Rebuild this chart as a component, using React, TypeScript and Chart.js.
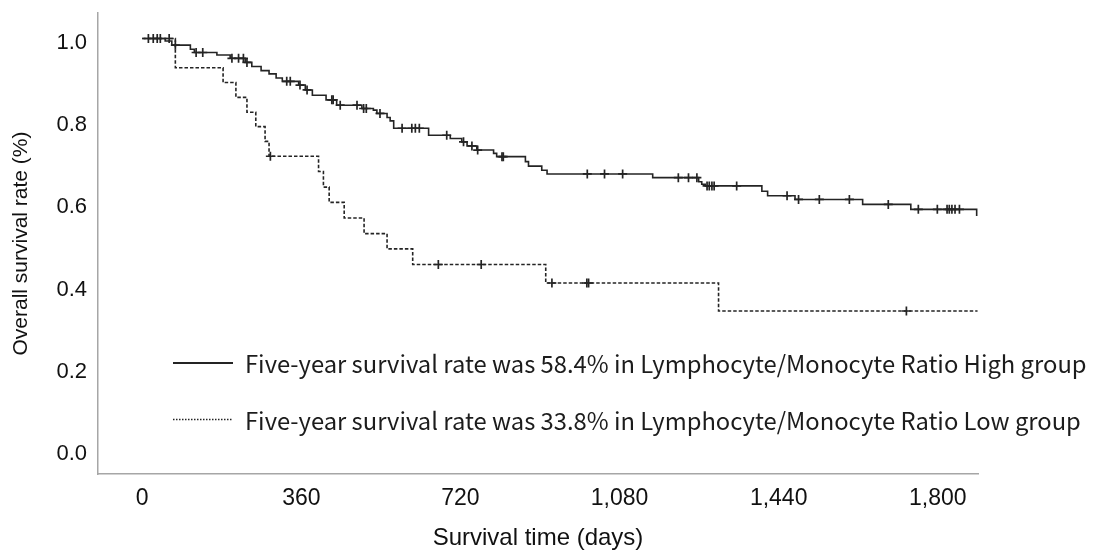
import React, { useEffect, useRef } from 'react';
import { Chart, registerables } from 'chart.js';

Chart.register(...registerables);

// ---- Data ----
const groupLabels = [
  'Five-year survival rate was 58.4% in Lymphocyte/Monocyte Ratio High group',
  'Five-year survival rate was 33.8% in Lymphocyte/Monocyte Ratio Low group',
];

const xTickValues = [0, 360, 720, 1080, 1440, 1800];
const yTickValues = [0, 0.2, 0.4, 0.6, 0.8, 1.0];

// High LMR group: event times (days) and survival right after each event
const highTimes = [52, 67, 109, 118, 169, 199, 233, 248, 269, 287, 303, 317, 354, 369, 385, 416, 440, 497, 523, 531, 554, 561, 569, 648, 697, 723, 735, 757, 795, 802, 867, 874, 904, 916, 1155, 1259, 1266, 1274, 1402, 1415, 1477, 1630, 1739, 1888];
const highSurv = [0.994, 0.984, 0.974, 0.966, 0.960, 0.952, 0.942, 0.932, 0.922, 0.914, 0.904, 0.896, 0.887, 0.875, 0.862, 0.851, 0.838, 0.830, 0.826, 0.818, 0.808, 0.800, 0.782, 0.765, 0.757, 0.749, 0.739, 0.729, 0.721, 0.713, 0.701, 0.690, 0.680, 0.671, 0.662, 0.652, 0.646, 0.642, 0.629, 0.618, 0.609, 0.597, 0.585, 0.569];
const highCensor = [14, 25, 34, 41, 75, 122, 137, 203, 218, 229, 237, 327, 335, 357, 373, 429, 432, 448, 486, 501, 507, 538, 588, 610, 618, 627, 689, 727, 746, 759, 814, 817, 1007, 1046, 1087, 1213, 1236, 1255, 1278, 1283, 1289, 1294, 1345, 1459, 1485, 1532, 1600, 1688, 1756, 1799, 1821, 1826, 1832, 1839, 1849];
const highLastFollowUp = 1888;

// Low LMR group
const lowTimes = [75, 183, 212, 237, 257, 278, 287, 399, 410, 423, 457, 502, 554, 612, 913, 1304];
const lowSurv = [0.929, 0.893, 0.857, 0.821, 0.786, 0.750, 0.714, 0.677, 0.639, 0.602, 0.564, 0.526, 0.489, 0.451, 0.406, 0.338];
const lowCensor = [61, 290, 670, 767, 927, 1006, 1010, 1729];
const lowLastFollowUp = 1890;

// ---- helpers ----
function survivalAt(times: number[], surv: number[], t: number): number {
  let s = 1;
  for (let i = 0; i < times.length; i++) {
    if (times[i] <= t) s = surv[i];
  }
  return s;
}

function stepPoints(times: number[], surv: number[], lastT: number) {
  const pts = [{ x: 0, y: 1 }];
  times.forEach((t, i) => pts.push({ x: t, y: surv[i] }));
  const last = pts[pts.length - 1];
  if (lastT > last.x) pts.push({ x: lastT, y: last.y });
  return pts;
}

function censorPoints(times: number[], surv: number[], censor: number[]) {
  return censor.map((t) => ({ x: t, y: survivalAt(times, surv, t) }));
}

const LINE = '#242424';
const AXIS = '#a6a6a6';
const TEXT = '#111111';
const SANS = '"Liberation Sans", Arial';

export default function App() {
  const ref = useRef<HTMLCanvasElement>(null);

  useEffect(() => {
    const canvas = ref.current;
    if (!canvas) return;

    const legendPlugin = {
      id: 'kmLegend',
      afterDraw(chart: any) {
        const { ctx, chartArea } = chart;
        const ds = chart.data.datasets;
        const rows = [
          { label: ds[0].label, dash: [] as number[], dy: 350 },
          { label: ds[1].label, dash: [1.5, 1.5], dy: 406.5 },
        ];
        const x0 = chartArea.left + 75;
        const x1 = chartArea.left + 135;
        const tx = chartArea.left + 147;
        const targetW = 842;
        ctx.save();
        ctx.font = '22px "Noto Sans CJK JP"';
        const w = ctx.measureText(rows[0].label).width;
        const size = (22 * targetW) / w;
        rows.forEach((r) => {
          const y = chartArea.top + r.dy;
          ctx.strokeStyle = LINE;
          ctx.lineWidth = r.dash.length ? 1.6 : 1.8;
          ctx.setLineDash(r.dash);
          ctx.beginPath();
          ctx.moveTo(x0, y);
          ctx.lineTo(x1, y);
          ctx.stroke();
          ctx.setLineDash([]);
          ctx.fillStyle = '#1c1c1c';
          ctx.font = `${size.toFixed(2)}px "Noto Sans CJK JP"`;
          ctx.textBaseline = 'middle';
          ctx.textAlign = 'left';
          ctx.fillText(r.label, tx, y + 1);
        });
        ctx.restore();
      },
    };

    const chart = new Chart(canvas, {
      type: 'scatter',
      data: {
        datasets: [
          {
            label: groupLabels[0],
            data: stepPoints(highTimes, highSurv, highLastFollowUp),
            showLine: true,
            stepped: true,
            borderColor: LINE,
            borderWidth: 1.6,
            pointRadius: 0,
            fill: false,
          },
          {
            label: groupLabels[1],
            data: stepPoints(lowTimes, lowSurv, lowLastFollowUp),
            showLine: true,
            stepped: true,
            borderColor: LINE,
            borderWidth: 1.6,
            borderDash: [3.5, 2],
            pointRadius: 0,
            fill: false,
          },
          {
            label: 'High censored',
            data: censorPoints(highTimes, highSurv, highCensor),
            showLine: false,
            pointStyle: 'cross',
            pointRadius: 4.5,
            pointBorderWidth: 1.7,
            borderColor: LINE,
            backgroundColor: LINE,
          },
          {
            label: 'Low censored',
            data: censorPoints(lowTimes, lowSurv, lowCensor),
            showLine: false,
            pointStyle: 'cross',
            pointRadius: 4.5,
            pointBorderWidth: 1.7,
            borderColor: LINE,
            backgroundColor: LINE,
          },
        ],
      },
      options: {
        animation: false,
        responsive: false,
        devicePixelRatio: 1,
        events: [],
        layout: { padding: { top: 13, right: 117, left: 0, bottom: 0 } },
        plugins: {
          legend: { display: false },
          tooltip: { enabled: false },
        },
        scales: {
          x: {
            type: 'linear',
            min: -100,
            max: 1891,
            grid: { display: false, drawTicks: false },
            border: { display: true, color: AXIS, width: 1.5 },
            afterBuildTicks: (s: any) => {
              s.ticks = xTickValues.map((v) => ({ value: v }));
            },
            afterFit: (s: any) => {
              s.height = 82;
              s.paddingLeft = 0;
              s.paddingRight = 0;
            },
            ticks: {
              padding: 11,
              color: TEXT,
              font: { family: SANS, size: 23 },
              maxRotation: 0,
              autoSkip: false,
              callback: (v: any) => Number(v).toLocaleString('en-US'),
            },
            title: {
              display: true,
              text: 'Survival time (days)',
              color: TEXT,
              font: { family: SANS, size: 24 },
              padding: { top: 0, bottom: 3 },
            },
          },
          y: {
            type: 'linear',
            min: -0.058,
            max: 1.062,
            grid: { display: false, drawTicks: false },
            border: { display: true, color: AXIS, width: 1.5 },
            afterBuildTicks: (s: any) => {
              s.ticks = yTickValues.map((v) => ({ value: v }));
            },
            afterFit: (s: any) => {
              s.width = 98;
              s.paddingTop = 0;
              s.paddingBottom = 0;
            },
            ticks: {
              padding: 11,
              labelOffset: 4,
              color: TEXT,
              font: { family: SANS, size: 22 },
              autoSkip: false,
              callback: (v: any) => Number(v).toFixed(1),
            },
            title: {
              display: true,
              text: 'Overall survival rate (%)',
              color: TEXT,
              font: { family: SANS, size: 21 },
              padding: { top: 9, bottom: 0 },
            },
          },
        },
      },
      plugins: [legendPlugin],
    } as any);

    return () => chart.destroy();
  }, []);

  return (
    <div style={{ position: 'fixed', left: 0, top: 0, width: 1095, height: 556, background: '#ffffff' }}>
      <canvas ref={ref} width={1095} height={556} style={{ display: 'block', width: 1095, height: 556 }} />
    </div>
  );
}
